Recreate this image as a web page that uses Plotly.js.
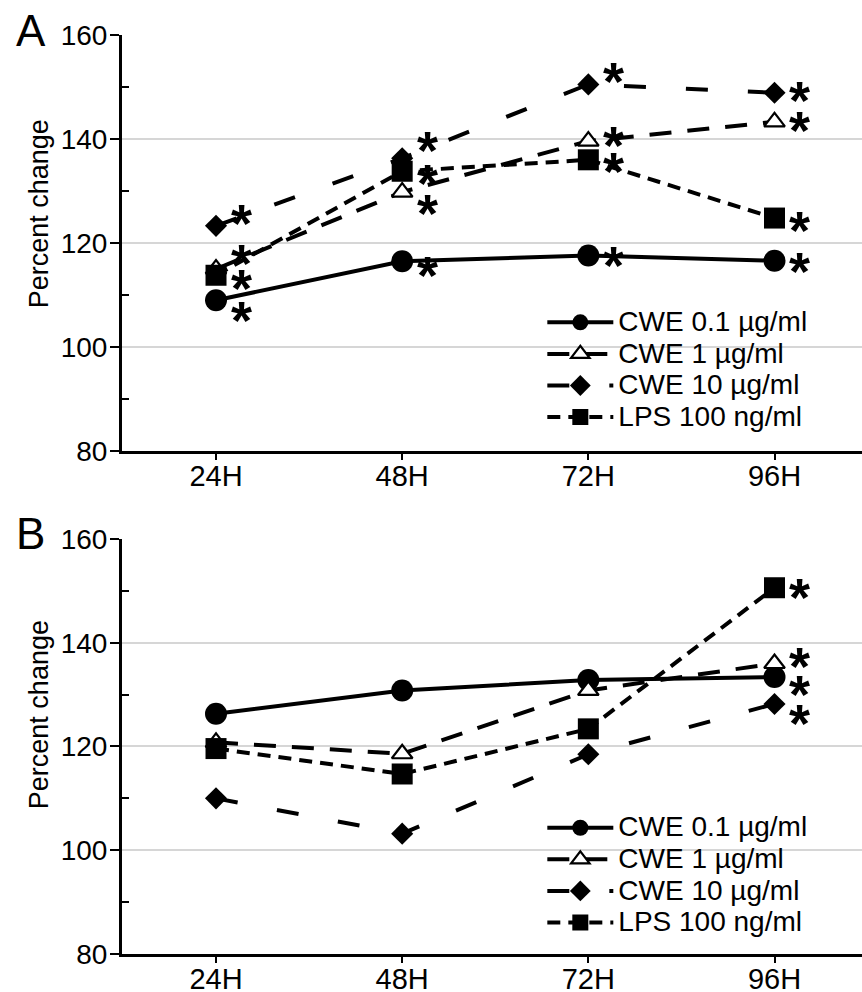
<!DOCTYPE html>
<html>
<head>
<meta charset="utf-8">
<script src="https://cdn.plot.ly/plotly-3.0.1.min.js"></script>
<style>
html,body{margin:0;padding:0;background:#fff;}
#chart{width:862px;height:992px;}
</style>
</head>
<body>
<div id="chart"></div>
<script>
// ---- data ----
var timepoints = ['24H', '48H', '72H', '96H'];
var seriesNames = ['CWE 0.1 \u00b5g/ml', 'CWE 1 \u00b5g/ml', 'CWE 10 \u00b5g/ml', 'LPS 100 ng/ml'];
var yTitle = 'Percent change';
var panelLabels = ['A', 'B'];

// Panel A
var cwe01A = [109.0, 116.5, 117.6, 116.6];
var cwe1A  = [115.0, 129.8, 139.6, 143.3];
var cwe10A = [123.3, 136.3, 150.5, 148.9];
var lpsA   = [113.8, 133.8, 136.0, 124.8];

// Panel B
var cwe01B = [126.3, 130.8, 132.8, 133.4];
var cwe1B  = [120.8, 118.6, 130.8, 136.0];
var cwe10B = [110.0, 103.2, 118.5, 128.2];
var lpsB   = [119.6, 114.7, 123.4, 150.6];

// significance asterisks (time point, level)
var starTimesA  = ['24H','24H','24H','24H','48H','48H','48H','48H','72H','72H','72H','72H','96H','96H','96H','96H'];
var starLevelsA = [125.4, 117.7, 112.9, 106.7, 139.4, 133.1, 127.3, 115.4, 152.7, 140.4, 135.4, 117.3, 149.0, 143.3, 124.0, 116.2];
var starTimesB  = ['96H','96H','96H','96H'];
var starLevelsB = [150.4, 137.1, 131.7, 126.0];

var yTickVals = [80, 100, 120, 140, 160];

// ---- styles ----
var FONT = 'Liberation Sans, Arial, Helvetica, sans-serif';
var styles = [
  {marker:{symbol:'circle', size:22, color:'#000'}, line:{color:'#000', width:4, dash:'solid'}},
  {marker:{symbol:'triangle-up', size:18, color:'#fff', line:{color:'#000', width:2.2}}, line:{color:'#000', width:4, dash:'22px,16px'}},
  {marker:{symbol:'diamond', size:17, color:'#000'}, line:{color:'#000', width:4, dash:'22px,40px'}},
  {marker:{symbol:'square', size:21, color:'#000'}, line:{color:'#000', width:4, dash:'13px,8px'}}
];

function makeTraces(vals, xa, ya, leg) {
  return vals.map(function(v, i) {
    return {
      type:'scatter', mode:'lines+markers', x: timepoints, y: v,
      name: '<span style="font-size:28px">' + seriesNames[i] + '</span>',
      xaxis: xa, yaxis: ya, legend: leg,
      marker: styles[i].marker, line: styles[i].line,
      cliponaxis:false, hoverinfo:'x+y'
    };
  });
}

var traces = []
  .concat(makeTraces([cwe01A, cwe1A, cwe10A, lpsA], 'x', 'y', 'legend'))
  .concat(makeTraces([cwe01B, cwe1B, cwe10B, lpsB], 'x2', 'y2', 'legend2'));

var annotations = [];
function addStars(times, levels, xref, yref) {
  for (var i = 0; i < times.length; i++) {
    annotations.push({
      x: times[i], y: levels[i], xref: xref, yref: yref,
      text: '<b>*</b>', showarrow:false, xanchor:'center', yanchor:'middle',
      xshift: 25, yshift: -8,
      font:{family:FONT, size:54, color:'#000'}
    });
  }
}
addStars(starTimesA, starLevelsA, 'x', 'y');
addStars(starTimesB, starLevelsB, 'x2', 'y2');

// panel letters
annotations.push({text:panelLabels[0], xref:'paper', yref:'paper', x:-0.146, y:1.0, xanchor:'left', yanchor:'middle',
  yshift:5, showarrow:false, font:{family:FONT, size:44, color:'#000'}});
annotations.push({text:panelLabels[1], xref:'paper', yref:'paper', x:-0.146, y:0.4516, xanchor:'left', yanchor:'middle',
  yshift:5, showarrow:false, font:{family:FONT, size:44, color:'#000'}});
// y-axis titles
[0.805, 0.26].forEach(function(yp) {
  annotations.push({text:yTitle, xref:'paper', yref:'paper', x:-0.112, y:yp, xanchor:'center', yanchor:'middle',
    textangle:-90, showarrow:false, font:{family:FONT, size:27, color:'#000'}});
});

function xAxis(anchor) {
  return {
    type:'category', anchor: anchor, range:[-0.505, 3.47],
    showline:true, linecolor:'#000', linewidth:3,
    ticks:'outside', ticklen:6, tickwidth:2, tickcolor:'#000',
    ticklabelstandoff:-9,
    showgrid:false, zeroline:false,
    tickfont:{family:FONT, size:29, color:'#000'}, fixedrange:true
  };
}
function yAxis(anchor, domain) {
  return {
    anchor: anchor, domain: domain, range:[80, 160],
    tickmode:'array', tickvals: yTickVals,
    showline:true, linecolor:'#000', linewidth:3,
    ticks:'outside', ticklen:9, tickwidth:2, tickcolor:'#000',
    ticklabelstandoff:-3,
    minor:{tickmode:'linear', tick0:90, dtick:20, ticks:'inside', ticklen:7, tickwidth:2, tickcolor:'#000', showgrid:false},
    showgrid:true, gridcolor:'#d6d6d6', gridwidth:2, zeroline:false,
    tickfont:{family:FONT, size:28, color:'#000'},
    fixedrange:true
  };
}

var legendBase = {
  xanchor:'left', yanchor:'top', bgcolor:'rgba(0,0,0,0)', borderwidth:0,
  font:{family:FONT, size:22, color:'#000'}, tracegroupgap:0, itemwidth:66
};
var leg1 = Object.assign({}, legendBase, {x:0.568, y:0.710});
var leg2 = Object.assign({}, legendBase, {x:0.568, y:0.160});

var layout = {
  width:862, height:992,
  margin:{l:122, r:0, t:35, b:38},
  paper_bgcolor:'#fff', plot_bgcolor:'#fff',
  showlegend:true,
  xaxis: xAxis('y'),
  yaxis: yAxis('x', [0.5473, 1]),
  xaxis2: xAxis('y2'),
  yaxis2: yAxis('x2', [0, 0.4516]),
  legend: leg1, legend2: leg2,
  annotations: annotations,
  font:{family:FONT, color:'#000'}
};

Plotly.newPlot('chart', traces, layout, {displayModeBar:false, staticPlot:true});
</script>
</body>
</html>
